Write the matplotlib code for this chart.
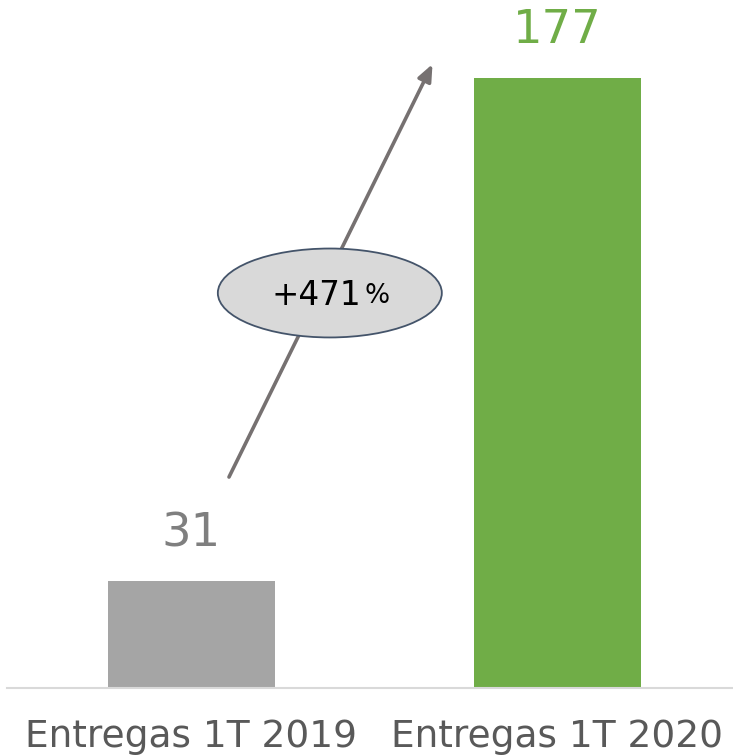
import matplotlib.pyplot as plt
from matplotlib.patches import Ellipse

plt.rcParams['font.family'] = ['DejaVu Sans']

categories = ['Entregas 1T 2019', 'Entregas 1T 2020']
values = [31, 177]
bar_colors = ['#a5a5a5', '#70ad47']
label_colors = ['#7f7f7f', '#70ad47']
growth_label = '+471'

fig = plt.figure(figsize=(7.33, 7.56), dpi=100)
ax = fig.add_axes([7 / 733, 68 / 756, 726 / 733, 688 / 756])

x = list(range(len(categories)))
ax.bar(x, values, width=0.456, color=bar_colors)
ax.set_xlim(-0.504, 1.4795)
ax.set_ylim(0, 199.6)

for xi, v, c in zip(x, values, label_colors):
    ax.text(xi, v + 10, str(v), ha='center', va='baseline', fontsize=33.5, color=c)

# category labels below the axis
for xi, cat in zip(x, categories):
    ax.text(xi, -14.3, cat, ha='center', va='center', fontsize=27, color='#595959')

for s in ['top', 'right', 'left']:
    ax.spines[s].set_visible(False)
ax.spines['bottom'].set_color('#d9d9d9')
ax.spines['bottom'].set_linewidth(1.5)
ax.set_xticks([])
ax.set_yticks([])

# growth arrow
ax.annotate('', xy=(0.6585, 181.0), xytext=(0.1025, 61.2),
            arrowprops=dict(arrowstyle='-|>,head_length=1.0,head_width=0.42',
                            color='#767171', lw=2.6, shrinkA=0, shrinkB=0))

ell = Ellipse((0.378, 114.6), 0.612, 25.8, facecolor='#d9d9d9',
              edgecolor='#44546a', lw=1.3, zorder=3)
ax.add_patch(ell)
ax.text(0.34, 113.8, growth_label, ha='center', va='center', fontsize=23.5, color='black', zorder=4)
ax.text(0.507, 113.6, '%', ha='center', va='center', fontsize=19, color='black', zorder=4)

fig.savefig('out.png', dpi=100)
